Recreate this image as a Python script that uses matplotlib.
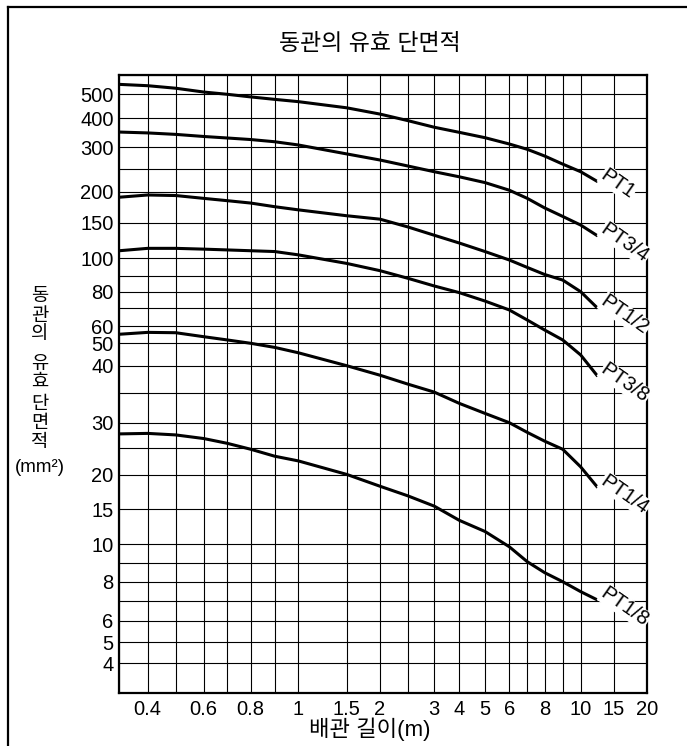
import numpy as np
import matplotlib
matplotlib.use("Agg")
import matplotlib.pyplot as plt
from matplotlib.lines import Line2D

plt.rcParams['font.family'] = ['Liberation Sans', 'Noto Sans CJK KR', 'DejaVu Sans']

# grid values on the x axis (배관 길이, m) and where the chart puts them (px from left edge)
x_grid = [0.3, 0.4, 0.5, 0.6, 0.7, 0.8, 0.9, 1, 1.5, 2, 2.5, 3, 4, 5, 6, 7, 8, 9, 10, 15, 20]
x_grid_pos = [0, 28.4, 56.4, 84.4, 108, 131.4, 155.4, 179, 227.4, 260.7, 288.4, 315, 340,
              365.7, 390, 408, 425.4, 443.4, 461.4, 494.7, 527.7]
x_labels = [0.4, 0.6, 0.8, 1, 1.5, 2, 3, 4, 5, 6, 8, 10, 15, 20]

# grid values on the y axis (유효 단면적, mm2) and their height (px from bottom of the plot)
y_grid = [3, 4, 5, 6, 7, 8, 9, 10, 15, 20, 25, 30, 35, 40, 50, 60, 70, 80, 90, 100,
          150, 200, 250, 300, 400, 500, 600]
y_grid_pos = [0, 29.4, 50.4, 71.7, 92, 111, 130, 148.4, 183.4, 217.7, 244.4, 270, 299.4,
              327, 349.4, 366.7, 384.4, 401, 416.7, 434.4, 470, 501, 523.4, 545.4, 574.4,
              598.4, 617.4]
y_labels = [4, 5, 6, 8, 10, 15, 20, 30, 40, 50, 60, 80, 100, 150, 200, 300, 400, 500]

# curves
length = [0.3, 0.4, 0.5, 0.6, 0.7, 0.8, 0.9, 1, 1.5, 2, 2.5, 3, 4, 5, 6, 7, 8, 9, 10, 12.3]
pt1 = [550, 543, 530, 511, 500, 488, 477, 467, 441, 416, 391, 366, 348, 330, 310, 295,
       279, 261, 244, 221]
pt34 = [349, 346, 341, 334, 329, 324, 317, 307, 284, 270, 257, 244, 232, 219, 203, 188,
        172, 159, 146, 129]
pt12 = [190, 194, 193, 188, 184, 180, 174, 169, 160, 155, 143, 130, 119, 108, 99, 94.7,
        90.8, 87.3, 80, 70]
pt38 = [109, 112, 112, 111, 110, 109, 108, 104, 97, 92.9, 88.5, 83.5, 79.4, 74.2, 69,
        63.2, 57.5, 51.8, 44.5, 38]
pt14 = [55, 56.1, 55.9, 53.6, 51.8, 50, 48, 45.5, 40, 38.2, 36.6, 35.2, 33.2, 31.5, 30,
        28, 26.3, 24.8, 21.4, 18]
pt18 = [27.7, 27.8, 27.5, 26.8, 25.9, 24.8, 23.4, 22.5, 20.1, 18.2, 16.8, 15.4, 13.2,
        11.6, 9.86, 9.05, 8.46, 8, 7.46, 7.03]
curves = [pt1, pt34, pt12, pt38, pt14, pt18]
names = ['PT1', 'PT3/4', 'PT1/2', 'PT3/8', 'PT1/4', 'PT1/8']


def fx(v):
    return np.interp(np.log10(np.clip(v, 1e-6, None)), np.log10(x_grid), x_grid_pos)


def fx_inv(p):
    return 10 ** np.interp(p, x_grid_pos, np.log10(x_grid))


def fy(v):
    return np.interp(np.log10(np.clip(v, 1e-6, None)), np.log10(y_grid), y_grid_pos)


def fy_inv(p):
    return 10 ** np.interp(p, y_grid_pos, np.log10(y_grid))


fig = plt.figure(figsize=(6.87, 7.46), dpi=100)
W, H = 687, 746
ax = fig.add_axes([119.3 / W, 53.3 / H, 527.7 / W, 617.4 / H])
ax.set_xscale('function', functions=(fx, fx_inv))
ax.set_yscale('function', functions=(fy, fy_inv))
ax.set_xlim(0.3, 20)
ax.set_ylim(3, 600)

ax.set_xticks(x_grid)
ax.set_xticklabels([('%g' % v) if v in x_labels else '' for v in x_grid])
ax.set_yticks(y_grid)
ax.set_yticklabels([('%g' % v) if v in y_labels else '' for v in y_grid])
ax.minorticks_off()
ax.tick_params(length=0, labelsize=14.5, colors='black')
ax.tick_params(axis='x', pad=5)
ax.tick_params(axis='y', pad=4)
ax.grid(True, color='black', linewidth=0.8)
for s in ax.spines.values():
    s.set_linewidth(1.6)

for ys, name in zip(curves, names):
    ax.plot(length, ys, color='black', linewidth=2.2, solid_capstyle='butt')
    ax.annotate(name, (length[-1], ys[-1]), xytext=(2, 4), textcoords='offset pixels',
                rotation=-35, rotation_mode='anchor', ha='left', va='baseline',
                fontsize=14.5, bbox=dict(facecolor='white', edgecolor='none', pad=0.5),
                annotation_clip=False)

fig.text(370 / W, 1 - 44 / H, '동관의 유효 단면적', ha='center', va='center',
         fontsize=16.5)
fig.text(370 / W, 1 - 729 / H, '배관 길이(m)', ha='center', va='center', fontsize=16)

ylab = ['동', '관', '의', '유', '효', '단', '면', '적', '(mm²)']
ylab_y = [296, 316, 335, 364, 382, 404, 423, 443, 467]
for t, yy in zip(ylab, ylab_y):
    fig.text(40 / W, 1 - yy / H, t, ha='center', va='center', fontsize=13.5)

# outer frame
fig.add_artist(Line2D([8 / W, 8 / W], [0, 1 - 7 / H], color='black', linewidth=1.6,
                      transform=fig.transFigure))
fig.add_artist(Line2D([8 / W, 1], [1 - 7 / H, 1 - 7 / H], color='black', linewidth=1.6,
                      transform=fig.transFigure))

fig.savefig('out.png', dpi=100)
